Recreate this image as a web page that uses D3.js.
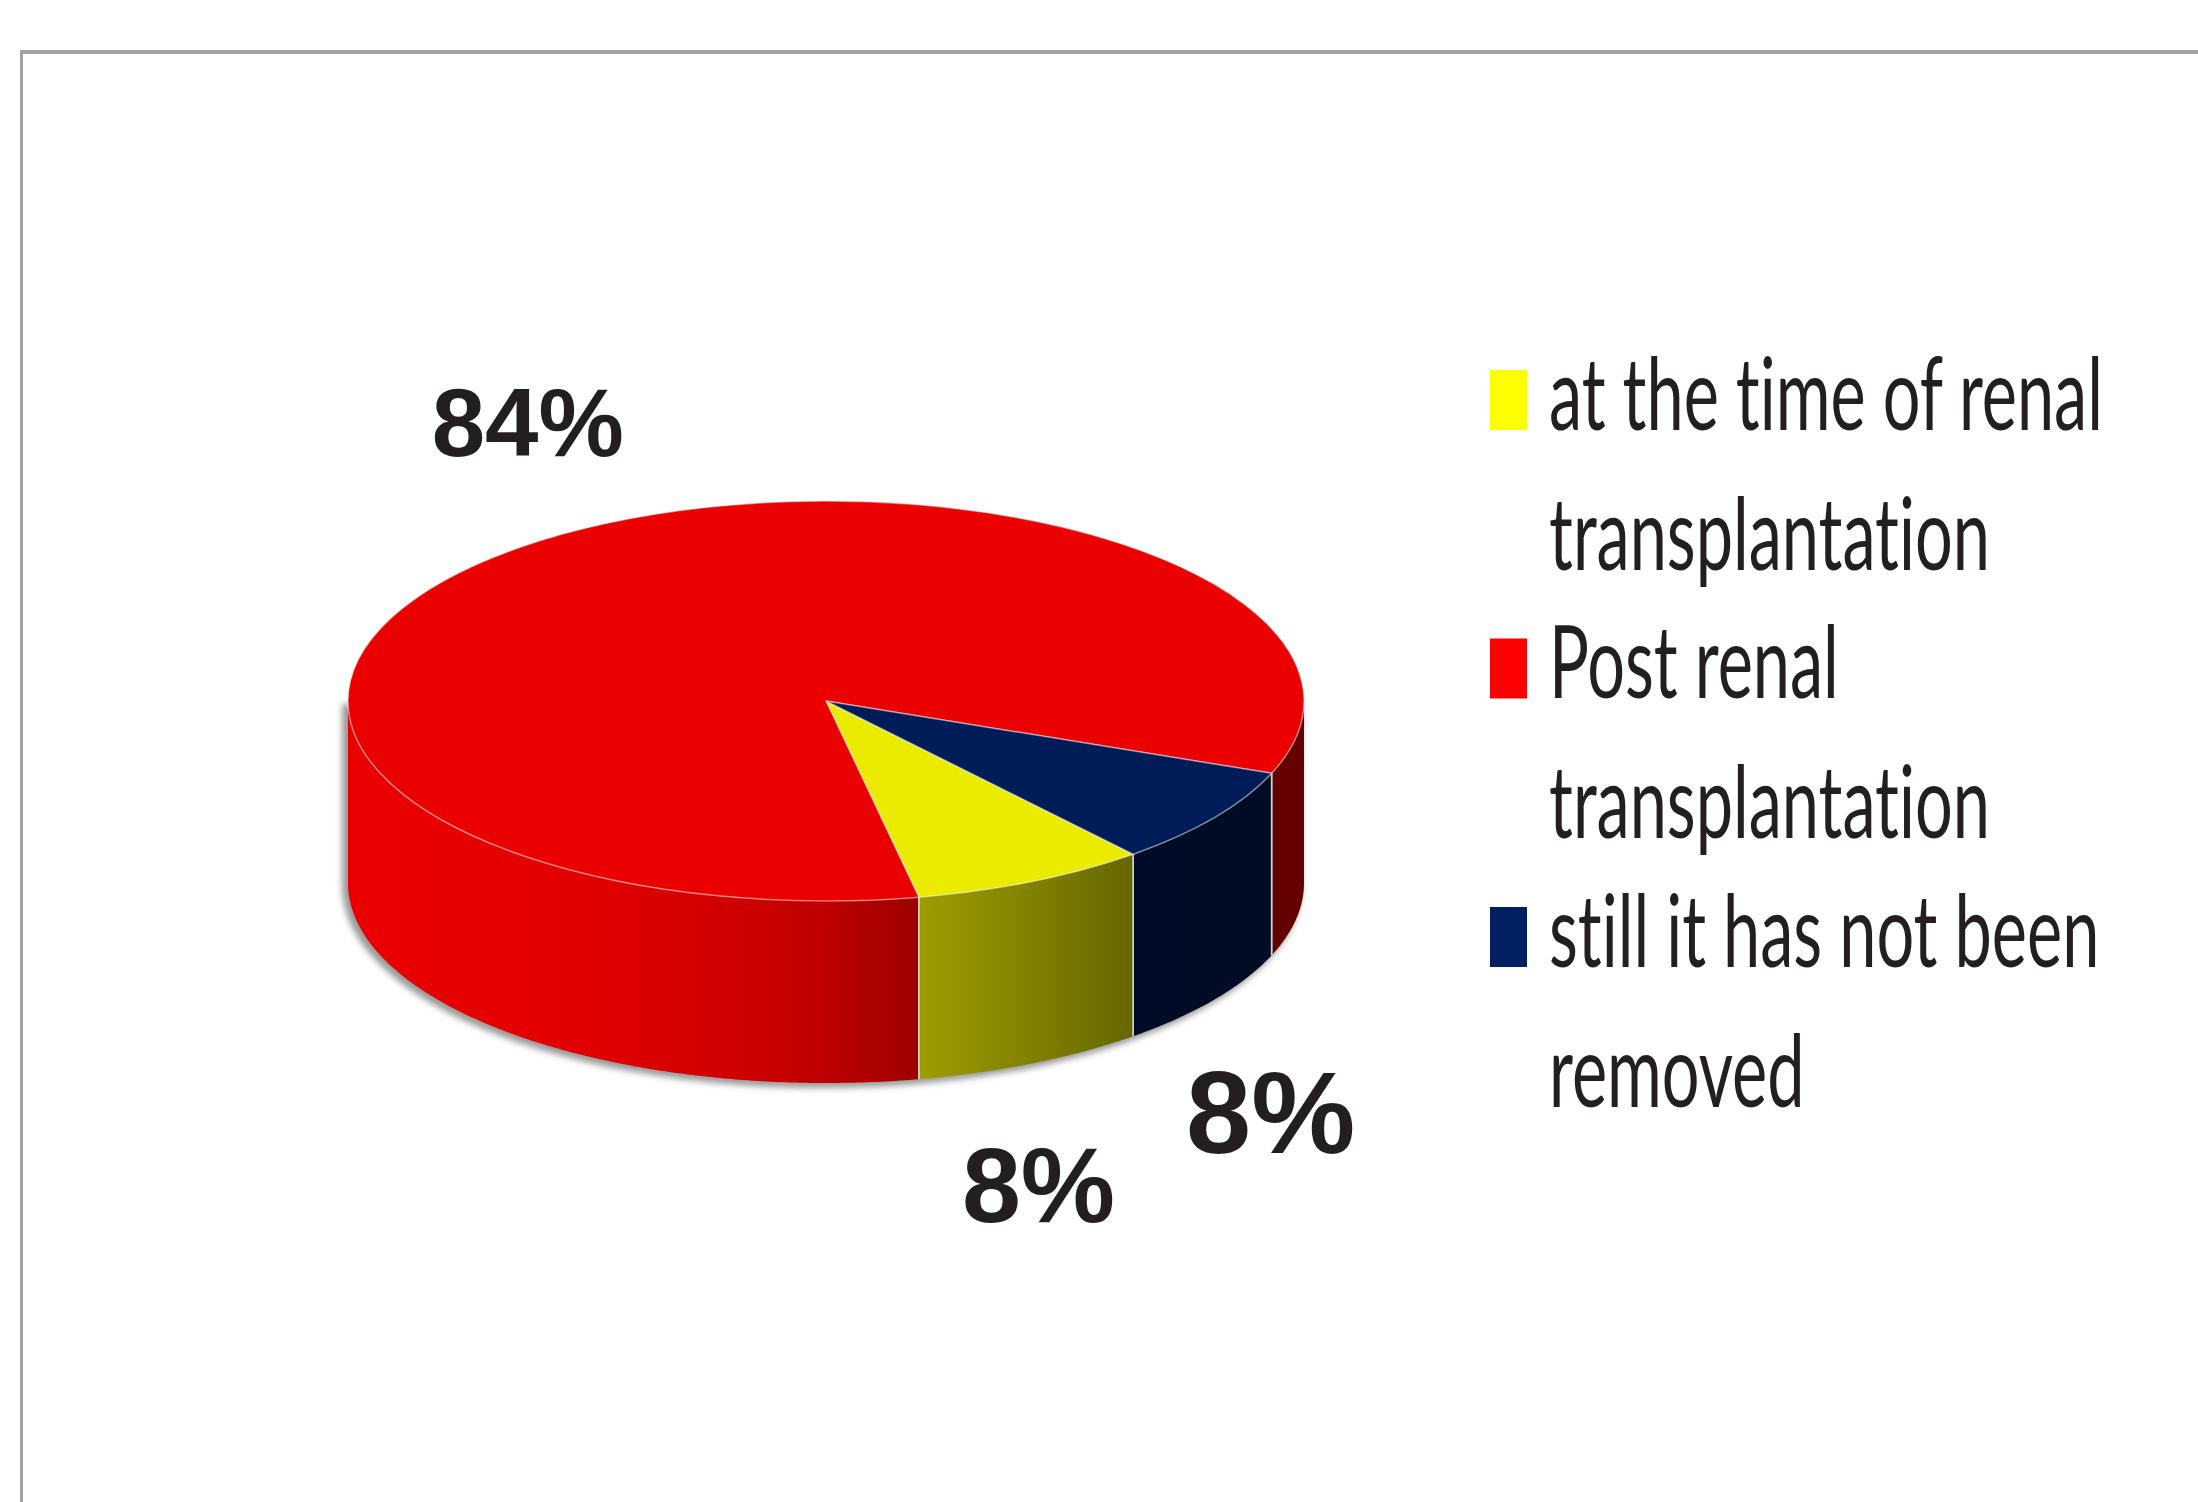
<!DOCTYPE html>
<html>
<head>
<meta charset="utf-8">
<script src="https://cdn.jsdelivr.net/npm/d3@7"></script>
<style>
  html, body { margin: 0; padding: 0; background: #fff; overflow: hidden; }
  text { font-variant-ligatures: none; font-feature-settings: "liga" 0, "clig" 0; }
</style>
</head>
<body>
<svg id="chart"></svg>
<script>
// данные
var categories = ["at the time of renal transplantation", "Post renal transplantation", "still it has not been removed"];
var values = [8, 84, 8];
var valueLabels = ["8%", "84%", "8%"];
var legendLines = [["at the time of renal", "transplantation"], ["Post renal", "transplantation"], ["still it has not been", "removed"]];

// оформление
var W = 2198, H = 1502;
var cx = 826, cy = 701, rx = 478, ry = 200, depth = 182;
var startDeg = 140;
var topColors = ["#ebeb00", "#eb0000", "#001c58"];
var swatchColors = ["#ffff00", "#ff0000", "#002060"];
// яркость боковой стенки слева направо
var shade = [[0, 1], [0.28, 0.95], [0.44, 0.86], [0.51, 0.79], [0.6, 0.67], [0.82, 0.44], [1, 0.42]];
var labelFont = [106, 96, 117];
var labelOffset = [[6, 341], [9, -92], [56, 336]];
var textColor = "#231f20";

var svg = d3.select("#chart").attr("width", W).attr("height", H);
var defs = svg.append("defs");

// рамка
svg.append("rect").attr("x", 20).attr("y", 50).attr("width", W - 20).attr("height", 4).attr("fill", "#a2a2a2");
svg.append("rect").attr("x", 20).attr("y", 50).attr("width", 3).attr("height", H - 50).attr("fill", "#a2a2a2");

var pie = d3.pie().sort(null).value(d => d)
    .startAngle(startDeg * Math.PI / 180)
    .endAngle(startDeg * Math.PI / 180 + 2 * Math.PI);
var arcs = pie(values);

function proj(a, dy) {
    return [cx + rx * Math.sin(a), cy - ry * Math.cos(a) + (dy || 0)];
}

// тень
var blur = defs.append("filter").attr("id", "shadow").attr("x", "-10%").attr("y", "-10%").attr("width", "120%").attr("height", "130%");
blur.append("feGaussianBlur").attr("stdDeviation", 3);
var sh = svg.append("g").attr("filter", "url(#shadow)").attr("fill", "#9a9a9a").attr("transform", "translate(-4,3)");
sh.append("ellipse").attr("cx", cx).attr("cy", cy + depth).attr("rx", rx + 2).attr("ry", ry + 2);
sh.append("rect").attr("x", cx - rx - 2).attr("y", cy).attr("width", 2 * rx + 4).attr("height", depth);

// градиенты стенок
topColors.forEach(function(c, i) {
    var g = defs.append("linearGradient").attr("id", "wall" + i)
        .attr("gradientUnits", "userSpaceOnUse")
        .attr("x1", cx - rx).attr("x2", cx + rx).attr("y1", 0).attr("y2", 0);
    shade.forEach(function(s) {
        g.append("stop").attr("offset", s[0]).attr("stop-color", d3.interpolateRgb("#000", c)(s[1]));
    });
});

// боковые стенки (видимая передняя половина)
var line = d3.line();
var walls = svg.append("g");
arcs.forEach(function(a, i) {
    for (var k = 0; k < 3; k++) {
        var w0 = Math.PI / 2 + 2 * Math.PI * k, w1 = 3 * Math.PI / 2 + 2 * Math.PI * k;
        var a0 = Math.max(a.startAngle, w0), a1 = Math.min(a.endAngle, w1);
        if (a1 <= a0) continue;
        var n = Math.max(2, Math.ceil((a1 - a0) / 0.01));
        var ts = d3.range(n + 1).map(j => a0 + (a1 - a0) * j / n);
        var pts = ts.map(t => proj(t, 0)).concat(ts.slice().reverse().map(t => proj(t, depth)));
        walls.append("path").attr("d", line(pts) + "Z").attr("fill", "url(#wall" + i + ")");
    }
});

// швы на стенках
arcs.forEach(function(a) {
    [a.startAngle, a.endAngle].forEach(function(t) {
        var c = Math.cos(t);
        if (c < -0.02) {
            var p = proj(t, 0);
            walls.append("line").attr("x1", p[0]).attr("y1", p[1]).attr("x2", p[0]).attr("y2", p[1] + depth)
                .attr("stroke", "#cfcfcf").attr("stroke-width", 1.5);
        }
    });
});

// верхняя крышка
var arc = d3.arc().innerRadius(0).outerRadius(rx);
svg.append("g")
    .attr("transform", `translate(${cx},${cy}) scale(1,${ry / rx})`)
    .selectAll("path")
    .data(arcs)
    .join("path")
    .attr("d", arc)
    .attr("fill", (d, i) => topColors[i])
    .attr("stroke", "rgba(255,255,255,0.45)")
    .attr("stroke-width", 1.5)
    .attr("vector-effect", "non-scaling-stroke");

// подписи значений
svg.append("g").selectAll("text")
    .data(arcs)
    .join("text")
    .attr("x", (d, i) => proj((d.startAngle + d.endAngle) / 2)[0] + labelOffset[i][0])
    .attr("y", (d, i) => proj((d.startAngle + d.endAngle) / 2)[1] + labelOffset[i][1])
    .attr("text-anchor", "middle")
    .attr("font-family", "'Liberation Sans', Arial, sans-serif")
    .attr("font-weight", "bold")
    .attr("font-size", (d, i) => labelFont[i])
    .attr("fill", textColor)
    .text((d, i) => valueLabels[i]);

// легенда
var legX = 1490, legTextX = 1549, legTop = 430, entryGap = 268.5, lineGap = 140;
var legend = svg.append("g");
var legText = legend.append("g").attr("font-family", "Lato, 'Open Sans', sans-serif")
    .attr("font-size", 100).attr("fill", textColor);
categories.forEach(function(c, i) {
    var base = legTop + i * entryGap;
    legend.append("rect").attr("x", legX).attr("y", base - 60).attr("width", 37).attr("height", 60)
        .attr("fill", swatchColors[i]);
    legendLines[i].forEach(function(s, j) {
        legText.append("text").attr("x", 0).attr("y", base + j * lineGap).text(s);
    });
});
// сжатие шрифта по ширине первой строки
var first = legText.select("text").node().getComputedTextLength();
var kx = 554 / first;
legText.attr("transform", `translate(${legTextX},0) scale(${kx},1)`);
</script>
</body>
</html>
